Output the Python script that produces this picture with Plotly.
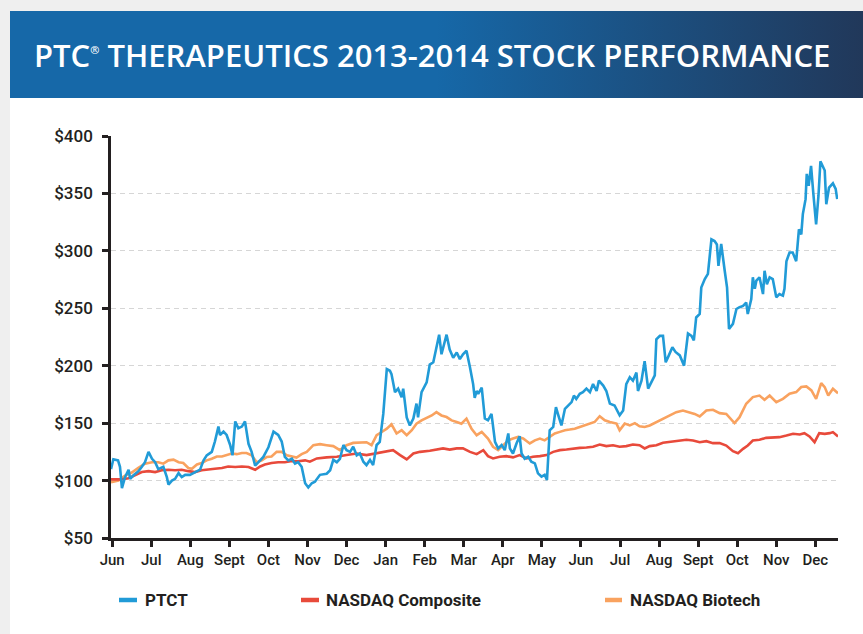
import base64
import plotly.graph_objects as go

# ---------------- data ----------------
month_labels = ["Jun", "Jul", "Aug", "Sept", "Oct", "Nov", "Dec", "Jan", "Feb", "Mar",
                "Apr", "May", "Jun", "Jul", "Aug", "Sept", "Oct", "Nov", "Dec"]
month_ticks = list(range(len(month_labels)))

y_ticks = [50, 100, 150, 200, 250, 300, 350, 400]
y_labels = ["$50", "$100", "$150", "$200", "$250", "$300", "$350", "$400"]

# months elapsed since start of Jun 2013
ptct_month = [
    -0.03, 0.03, 0.15, 0.20, 0.25, 0.33, 0.42, 0.46, 0.54, 0.67,
    0.76, 0.84, 0.93, 1.02, 1.10, 1.18, 1.31, 1.40, 1.44, 1.53,
    1.61, 1.70, 1.78, 1.87, 1.99, 2.12, 2.25, 2.34, 2.42, 2.55,
    2.63, 2.72, 2.76, 2.85, 2.93, 3.02, 3.08, 3.15, 3.23, 3.32,
    3.40, 3.49, 3.57, 3.66, 3.74, 3.87, 4.00, 4.13, 4.25, 4.34,
    4.42, 4.51, 4.60, 4.68, 4.76, 4.85, 4.94, 5.02, 5.11, 5.19,
    5.32, 5.49, 5.58, 5.66, 5.75, 5.83, 5.92, 6.00, 6.09, 6.17,
    6.26, 6.34, 6.43, 6.51, 6.60, 6.68, 6.77, 6.85, 6.94, 7.03,
    7.11, 7.15, 7.24, 7.32, 7.41, 7.45, 7.54, 7.62, 7.71, 7.79,
    7.83, 7.92, 8.05, 8.13, 8.22, 8.30, 8.37, 8.43, 8.52, 8.56,
    8.64, 8.73, 8.82, 8.90, 8.98, 9.07, 9.16, 9.24, 9.28, 9.33,
    9.37, 9.46, 9.54, 9.62, 9.71, 9.80, 9.88, 9.97, 10.05, 10.14,
    10.18, 10.26, 10.35, 10.43, 10.48, 10.56, 10.65, 10.73, 10.82, 10.90,
    10.99, 11.07, 11.13, 11.20, 11.29, 11.36, 11.41, 11.50, 11.59, 11.67,
    11.76, 11.82, 11.88, 11.97, 12.05, 12.14, 12.23, 12.31, 12.40, 12.46,
    12.57, 12.65, 12.74, 12.86, 12.99, 13.08, 13.16, 13.25, 13.33, 13.42,
    13.46, 13.55, 13.63, 13.72, 13.80, 13.89, 13.93, 14.02, 14.10, 14.17,
    14.25, 14.34, 14.42, 14.53, 14.64, 14.74, 14.83, 14.89, 14.95, 15.04,
    15.08, 15.17, 15.25, 15.31, 15.34, 15.42, 15.48, 15.52, 15.59, 15.68,
    15.74, 15.79, 15.89, 15.98, 16.06, 16.15, 16.23, 16.27, 16.36, 16.40,
    16.45, 16.49, 16.57, 16.66, 16.70, 16.76, 16.83, 16.91, 16.96, 17.00,
    17.08, 17.17, 17.21, 17.26, 17.34, 17.42, 17.51, 17.58, 17.64, 17.68,
    17.75, 17.78, 17.83, 17.89, 17.95, 18.02, 18.08, 18.13, 18.24, 18.28,
    18.35, 18.45, 18.52, 18.56,
]
ptct_value = [
    110, 118.5, 117.6, 112, 93.5, 103, 109.4, 101.5, 104.4, 108,
    112, 116, 125, 119, 116, 110, 112, 103, 96.5, 100,
    101.5, 106.5, 103, 105, 105, 107, 109.5, 117.6, 122, 125,
    134, 147, 139.7, 142.6, 139.7, 131, 122, 151.5, 145.6, 147,
    151.5, 132, 125, 113, 116, 120.6, 129, 142.6, 139.7, 134,
    120.6, 117.6, 119, 114.7, 116, 112, 97.7, 94, 97.7, 99,
    105, 106, 109, 118, 116, 119, 131, 126.5, 125, 129.4,
    122, 123.6, 116.4, 113.5, 118, 113.5, 131, 133.7, 158, 197,
    195.6, 192.7, 177, 180, 172.6, 180, 155, 148, 154, 167,
    155, 177, 185.5, 201, 203, 217, 227, 210, 223, 227,
    214, 207, 211.5, 205.7, 210, 213, 198.5, 184, 172, 178,
    175.5, 181, 154, 152.5, 158, 133.7, 128, 131, 126.5, 141,
    128, 123.6, 132.3, 138.6, 123.6, 119, 120.7, 116.4, 115, 106.3,
    103.5, 105, 100.5, 143.8, 146.7, 164, 158, 148, 162.5, 165.4,
    168.3, 174, 171, 175.5, 177, 180, 177, 184, 178, 187,
    182.7, 178, 167, 165.4, 156.8, 161, 184, 190, 187, 194,
    178, 187, 204, 180, 186, 191.6, 223, 226, 226, 203,
    209, 216, 212, 209, 200, 228, 226, 222, 242, 245,
    268, 275.4, 280, 300, 310, 308.5, 305.6, 287, 306, 282.7,
    268, 232, 236.4, 249.4, 251, 252, 255, 245, 258, 277,
    267, 274, 277, 262.4, 282.7, 271, 277, 275.4, 268, 259.5,
    262.4, 261, 267, 291, 298.6, 298.6, 291, 318.7, 314.3, 332,
    345, 367, 356.7, 374, 349.4, 323, 348, 378, 370, 340.6,
    355, 358.8, 354, 345,
]

biotech_month = [
    -0.03, 0.16, 0.33, 0.50, 0.67, 0.84, 1.02, 1.18, 1.31, 1.44,
    1.57, 1.70, 1.82, 1.95, 2.04, 2.17, 2.29, 2.42, 2.55, 2.68,
    2.81, 2.93, 3.06, 3.19, 3.32, 3.44, 3.57, 3.70, 3.83, 3.96,
    4.08, 4.21, 4.34, 4.47, 4.60, 4.72, 4.85, 4.98, 5.15, 5.32,
    5.49, 5.66, 5.83, 6.00, 6.17, 6.34, 6.51, 6.64, 6.77, 6.90,
    7.03, 7.15, 7.28, 7.41, 7.54, 7.67, 7.79, 7.92, 8.05, 8.18,
    8.30, 8.43, 8.56, 8.69, 8.82, 8.94, 9.07, 9.20, 9.33, 9.46,
    9.62, 9.75, 9.88, 10.01, 10.14, 10.26, 10.39, 10.52, 10.69, 10.82,
    10.95, 11.07, 11.20, 11.33, 11.46, 11.59, 11.71, 11.84, 11.97, 12.10,
    12.23, 12.35, 12.48, 12.61, 12.74, 12.91, 12.99, 13.12, 13.25, 13.38,
    13.50, 13.63, 13.76, 13.93, 14.10, 14.27, 14.44, 14.61, 14.78, 14.91,
    15.04, 15.21, 15.38, 15.55, 15.72, 15.81, 15.93, 16.06, 16.23, 16.40,
    16.57, 16.70, 16.83, 17.00, 17.17, 17.34, 17.51, 17.64, 17.77, 17.90,
    18.02, 18.15, 18.24, 18.33, 18.45, 18.58,
]
biotech_value = [
    98.5, 100, 104.4, 107, 111, 114.7, 116, 116, 114.7, 117.6,
    118.2, 116, 115.3, 111, 110.3, 114, 115.3, 117.6, 119, 121,
    121, 122, 123.5, 123, 124, 124, 122, 116, 117.6, 120.6,
    121, 125, 125, 122, 121, 120, 123, 125, 130.8, 131.7,
    130.8, 130, 126.5, 130.8, 132.8, 133.4, 133.4, 130.8, 139.5, 142.3,
    145.2, 149, 141, 143.8, 139.5, 143.8, 149.5, 152.4, 154.7, 156.7,
    159.6, 156.7, 155.3, 152.4, 151, 149.5, 153.9, 145, 139.5, 142.4,
    136.6, 129.4, 126.5, 130.8, 135, 136.6, 138, 136.6, 132.3, 135,
    136.6, 135, 138, 141, 142.4, 143.8, 144.4, 145.2, 146.7, 148,
    149.6, 151, 156, 152.5, 151, 149.6, 143.8, 149.6, 148, 150,
    147.3, 146.7, 148, 151, 154, 157, 159.6, 161, 159.6, 158,
    155.8, 161, 161.6, 158.7, 158, 154.7, 150, 155.2, 166.9, 172.7,
    174, 170.3, 174, 168.3, 171.2, 175.6, 177, 181.4, 182, 178.5,
    171.2, 184.9, 181.4, 174, 180, 176,
]

composite_month = [
    -0.03, 0.20, 0.42, 0.59, 0.76, 0.93, 1.10, 1.27, 1.44, 1.61,
    1.78, 1.95, 2.12, 2.29, 2.46, 2.63, 2.81, 2.97, 3.15, 3.32,
    3.49, 3.66, 3.79, 3.91, 4.08, 4.25, 4.42, 4.60, 4.76, 4.94,
    5.06, 5.24, 5.49, 5.75, 6.00, 6.26, 6.51, 6.77, 7.03, 7.19,
    7.37, 7.54, 7.71, 7.88, 8.13, 8.30, 8.47, 8.64, 8.82, 8.98,
    9.16, 9.33, 9.50, 9.62, 9.75, 9.92, 10.09, 10.26, 10.43, 10.61,
    10.77, 10.95, 11.12, 11.29, 11.46, 11.63, 11.80, 11.97, 12.14, 12.31,
    12.48, 12.65, 12.82, 12.99, 13.16, 13.33, 13.50, 13.63, 13.76, 13.93,
    14.10, 14.27, 14.53, 14.70, 14.87, 15.04, 15.21, 15.38, 15.55, 15.72,
    15.89, 16.02, 16.15, 16.27, 16.40, 16.57, 16.74, 16.91, 17.08, 17.26,
    17.43, 17.60, 17.72, 17.85, 17.98, 18.10, 18.24, 18.37, 18.45, 18.58,
]
composite_value = [
    101, 101, 102, 104.4, 107.4, 108.2, 107.4, 109, 109.4, 109,
    109.4, 108.2, 107.4, 109, 109.4, 110.3, 111, 112.3, 111.8, 112.3,
    111.8, 109.4, 112.3, 114, 115.3, 116, 116, 117, 116.8, 117.6,
    116.4, 119.3, 120.2, 120.7, 122.2, 123.6, 122.2, 123.6, 125, 126.5,
    122.2, 118.4, 123.6, 125, 126, 127, 128, 127, 128, 128,
    125, 123, 126.5, 121.3, 119.3, 120.7, 121.3, 120.2, 122.2, 119.3,
    120.7, 121.3, 122.2, 125, 126.5, 127, 128, 128.5, 128.8, 129.4,
    131.4, 130, 130.8, 129.4, 130, 131.4, 130.8, 128, 130, 130.8,
    132.9, 133.7, 134.3, 135.5, 134.9, 133.4, 134.3, 132.6, 132.6, 130.5,
    125.6, 123.8, 127.6, 130.5, 134.9, 135.5, 137.2, 137.2, 137.8, 139.2,
    140.7, 140.1, 141.3, 138.4, 133.4, 141.3, 140.7, 141.3, 142.2, 138.4,
]

series_names = ["PTCT", "NASDAQ Composite", "NASDAQ Biotech"]
series_colors = ["#219bd7", "#e84a3b", "#f9a25f"]

# ---------------- layout helpers (pixel -> paper) ----------------
W, H = 863, 634
ML, MR, MT, MB = 111, 25, 136, 96
PW = W - ML - MR
PH = H - MT - MB


def px(x):
    return (x - ML) / PW


def py(y):
    return (H - MB - y) / PH


INK = "#231f20"

fig = go.Figure()
fig.add_trace(go.Scatter(x=biotech_month, y=biotech_value, mode="lines",
                         name=series_names[2],
                         line=dict(color=series_colors[2], width=2.6)))
fig.add_trace(go.Scatter(x=composite_month, y=composite_value, mode="lines",
                         name=series_names[1],
                         line=dict(color=series_colors[1], width=2.6)))
fig.add_trace(go.Scatter(x=ptct_month, y=ptct_value, mode="lines",
                         name=series_names[0],
                         line=dict(color=series_colors[0], width=2.6)))

# banner gradient image
svg = ('<svg xmlns="http://www.w3.org/2000/svg" width="853" height="87" '
       'viewBox="0 0 853 87" preserveAspectRatio="none">'
       '<defs><linearGradient id="g" x1="0" x2="1" y1="0" y2="0">'
       '<stop offset="0" stop-color="#1668a8"/>'
       '<stop offset="0.5" stop-color="#1668a8"/>'
       '<stop offset="1" stop-color="#21385a"/>'
       '</linearGradient></defs>'
       '<rect width="853" height="87" fill="url(#g)"/></svg>')
svg_src = "data:image/svg+xml;base64," + base64.b64encode(svg.encode()).decode()

shapes = [
    dict(type="rect", xref="paper", yref="paper",
         x0=px(10), x1=px(870), y0=py(98), y1=py(640),
         fillcolor="white", line=dict(width=0), layer="below"),
]

annotations = [
    dict(text="PTC<sup><span style='font-size:11px'>®</span></sup> THERAPEUTICS 2013-2014 STOCK PERFORMANCE",
         x=px(432), y=py(55), xref="paper", yref="paper",
         xanchor="center", yanchor="middle", showarrow=False,
         font=dict(family="Open Sans", size=31, color="white", weight=600)),
]

# manual legend
legend_line_x = [(119, 137), (301, 319), (605, 622)]
legend_text_x = [143, 324, 628]
LEG_Y = 600
for name, color, (a, b), tx in zip(series_names, series_colors, legend_line_x, legend_text_x):
    shapes.append(dict(type="line", xref="paper", yref="paper",
                       x0=px(a), x1=px(b), y0=py(LEG_Y), y1=py(LEG_Y),
                       line=dict(color=color, width=4.5)))
    annotations.append(dict(text=name, x=px(tx), y=py(LEG_Y), xref="paper", yref="paper",
                            xanchor="left", yanchor="middle", showarrow=False,
                            font=dict(family="Roboto", size=17, color=INK, weight="bold")))

fig.update_layout(
    width=W, height=H,
    margin=dict(l=ML, r=MR, t=MT, b=MB, pad=0),
    paper_bgcolor="#efefef",
    plot_bgcolor="white",
    showlegend=False,
    hovermode=False,
    shapes=shapes,
    annotations=annotations,
    images=[dict(source=svg_src, xref="paper", yref="paper",
                 x=px(10), y=py(11), sizex=(W - 10) / PW, sizey=(98 - 11) / PH,
                 xanchor="left", yanchor="top", sizing="stretch", layer="below")],
    xaxis=dict(range=[-0.03, 18.58], tickmode="array", tickvals=month_ticks,
               ticktext=month_labels, showgrid=False, zeroline=False,
               showline=True, linecolor=INK, linewidth=2.5,
               ticks="outside", ticklen=6, tickwidth=2.5, tickcolor=INK,
               tickfont=dict(family="Roboto", size=15, color=INK, weight=500)),
    yaxis=dict(range=[50, 400], tickmode="array", tickvals=y_ticks,
               ticktext=y_labels, showgrid=True, gridcolor="#d6d6d6",
               griddash="5px,4px", gridwidth=1, zeroline=False,
               showline=True, linecolor=INK, linewidth=2.5,
               ticks="outside", ticklen=6, tickwidth=2.5, tickcolor=INK,
               ticklabelstandoff=6,
               tickfont=dict(family="Roboto", size=17, color=INK, weight=500)),
)

fig.write_html("out.html",
               config={"displayModeBar": False},
               post_script="document.body.style.margin='0';document.body.style.padding='0';"
                           "document.body.style.overflow='hidden';")
